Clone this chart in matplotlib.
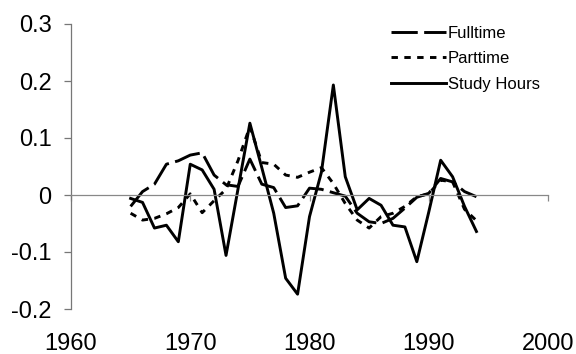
import matplotlib
matplotlib.use("Agg")
import matplotlib.pyplot as plt
import numpy as np

plt.rcParams['font.family'] = ['Liberation Sans', 'DejaVu Sans']

years = list(range(1965, 1995))
fulltime = [-0.020, 0.006, 0.019, 0.054, 0.060, 0.070, 0.074, 0.035, 0.018, 0.015,
            0.063, 0.019, 0.013, -0.022, -0.019, 0.012, 0.010, 0.004, -0.002, -0.032,
            -0.047, -0.050, -0.041, -0.023, -0.004, 0.003, 0.029, 0.023, 0.006, -0.003]
parttime = [-0.032, -0.044, -0.041, -0.033, -0.022, 0.002, -0.031, -0.010, 0.010, 0.060,
            0.120, 0.057, 0.054, 0.035, 0.031, 0.040, 0.048, 0.020, -0.015, -0.044,
            -0.058, -0.038, -0.032, -0.020, -0.003, 0.002, 0.026, 0.023, -0.025, -0.045]
study_hours = [-0.006, -0.013, -0.058, -0.053, -0.082, 0.054, 0.044, 0.010, -0.106, 0.010,
               0.126, 0.048, -0.032, -0.146, -0.174, -0.038, 0.040, 0.193, 0.032, -0.026,
               -0.006, -0.018, -0.053, -0.056, -0.117, -0.030, 0.061, 0.032, -0.020, -0.064]
series_labels = ["Fulltime", "Parttime", "Study Hours"]
x_ticks = [1960, 1970, 1980, 1990, 2000]
y_ticks = [-0.2, -0.1, 0, 0.1, 0.2, 0.3]
y_tick_labels = ["-0.2", "-0.1", "0", "0.1", "0.2", "0.3"]

fig = plt.figure(figsize=(5.76, 3.54), dpi=100)
ax = fig.add_axes([71/576, 1 - 309/354, (548 - 71)/576, (309 - 24)/354])

lw = 2.1
ax.plot(years, fulltime, color='black', lw=lw, dashes=(9, 2.2), label=series_labels[0])
ax.plot(years, parttime, color='black', lw=lw, dashes=(2.2, 2.2), label=series_labels[1])
ax.plot(years, study_hours, color='black', lw=lw, label=series_labels[2])

ax.set_xlim(1960, 2000)
ax.set_ylim(-0.2, 0.3)

for s in ['top', 'right']:
    ax.spines[s].set_visible(False)
ax.spines['left'].set_color('#777777')
ax.spines['left'].set_linewidth(0.9)
ax.spines['bottom'].set_position(('data', 0))
ax.spines['bottom'].set_color('#888888')
ax.spines['bottom'].set_linewidth(0.9)

ax.set_yticks(y_ticks)
ax.set_yticklabels(y_tick_labels)
ax.tick_params(axis='y', direction='out', length=5, width=0.9, color='#777777',
               labelsize=17, pad=9)
ax.set_xticks(x_ticks)
ax.tick_params(axis='x', direction='out', length=4, width=0.9, color='#888888',
               labelbottom=False)

sec = ax.secondary_xaxis(0.0)
sec.set_xticks(x_ticks)
sec.set_xticklabels([str(v) for v in x_ticks])
sec.spines['bottom'].set_visible(False)
sec.tick_params(axis='x', length=0, labelsize=17, pad=17)

leg = ax.legend(loc='upper left', bbox_to_anchor=(391/576, 1 - 26/354),
                bbox_transform=fig.transFigure, frameon=False, fontsize=12,
                handlelength=3.3, handletextpad=0.1, labelspacing=0.62,
                borderpad=0, borderaxespad=0)

fig.savefig('out.png', dpi=100, facecolor='white')
